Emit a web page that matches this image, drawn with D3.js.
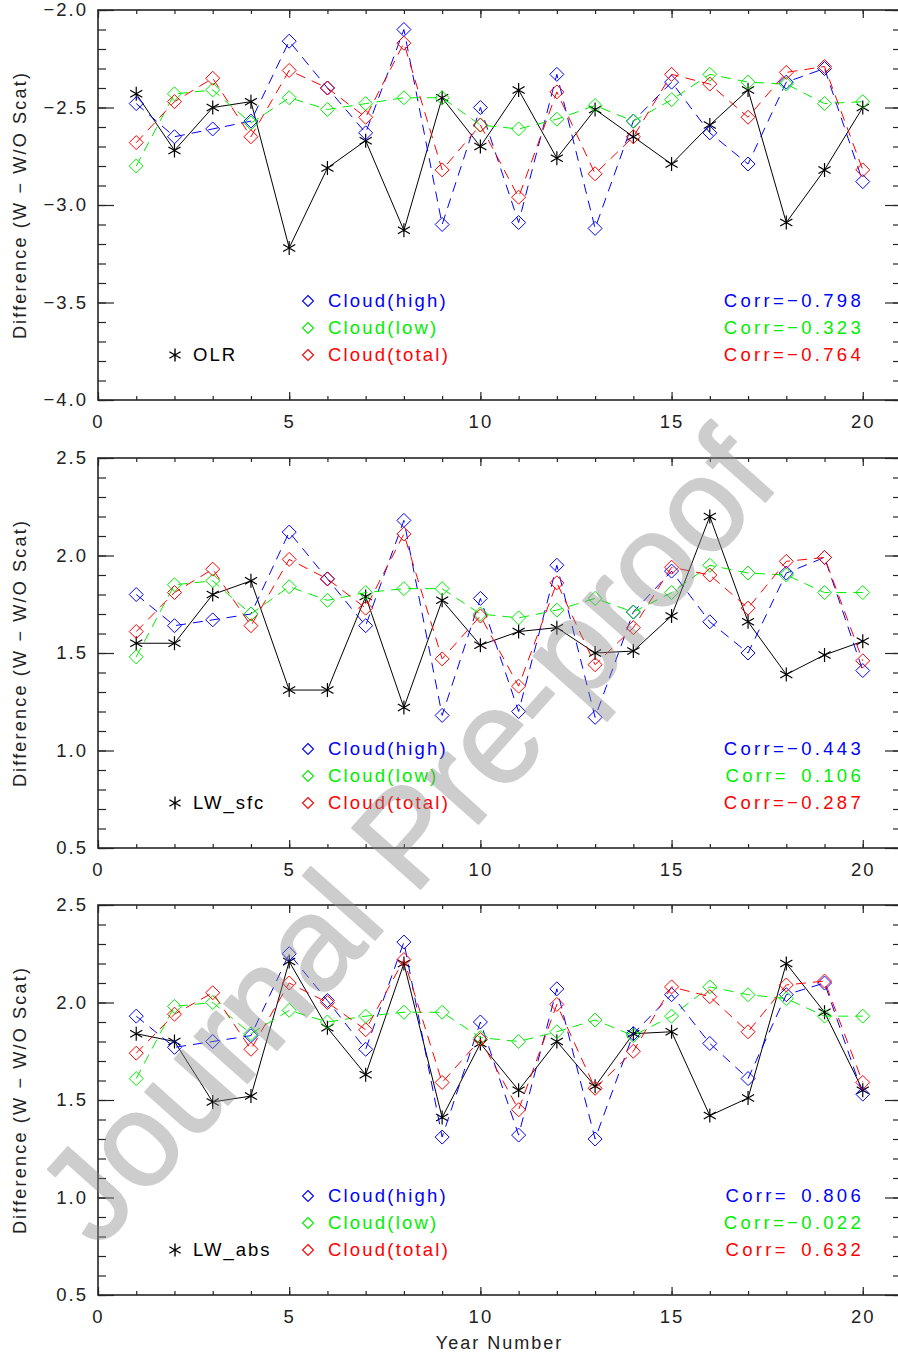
<!DOCTYPE html>
<html>
<head>
<meta charset="utf-8">
<script src="https://cdn.jsdelivr.net/npm/d3@7"></script>
<style>
  body { margin: 0; background: #fff; }
  svg text { font-family: "Liberation Sans", Arial, sans-serif; }
</style>
</head>
<body>
<script>
// year index along x
const years = [1, 2, 3, 4, 5, 6, 7, 8, 9, 10, 11, 12, 13, 14, 15, 16, 17, 18, 19, 20];

// OLR panel
const olrFlux  = [-2.43, -2.72, -2.50, -2.47, -3.22, -2.81, -2.67, -3.13, -2.45, -2.70, -2.41, -2.76, -2.51, -2.65, -2.79, -2.59, -2.41, -3.09, -2.82, -2.50];
const olrHigh  = [-2.48, -2.65, -2.61, -2.57, -2.16, -2.40, -2.63, -2.10, -3.10, -2.50, -3.09, -2.33, -3.12, -2.57, -2.37, -2.63, -2.79, -2.37, -2.30, -2.88];
const olrLow   = [-2.80, -2.43, -2.41, -2.58, -2.45, -2.51, -2.48, -2.45, -2.45, -2.59, -2.61, -2.56, -2.49, -2.57, -2.46, -2.33, -2.37, -2.38, -2.48, -2.47];
const olrTotal = [-2.68, -2.47, -2.35, -2.65, -2.31, -2.40, -2.55, -2.17, -2.82, -2.59, -2.96, -2.42, -2.84, -2.65, -2.33, -2.38, -2.55, -2.32, -2.29, -2.82];

// LW_sfc panel
const sfcFlux  = [1.55, 1.55, 1.80, 1.87, 1.31, 1.31, 1.79, 1.22, 1.77, 1.54, 1.61, 1.63, 1.50, 1.51, 1.69, 2.20, 1.66, 1.39, 1.49, 1.56];
const sfcHigh  = [1.80, 1.64, 1.67, 1.70, 2.12, 1.88, 1.64, 2.18, 1.18, 1.78, 1.20, 1.95, 1.17, 1.71, 1.92, 1.66, 1.50, 1.91, 1.99, 1.41];
const sfcLow   = [1.48, 1.85, 1.87, 1.70, 1.84, 1.77, 1.81, 1.83, 1.83, 1.70, 1.68, 1.72, 1.78, 1.71, 1.81, 1.95, 1.91, 1.90, 1.81, 1.81];
const sfcTotal = [1.61, 1.81, 1.93, 1.64, 1.98, 1.88, 1.73, 2.11, 1.47, 1.69, 1.33, 1.86, 1.44, 1.63, 1.94, 1.90, 1.73, 1.97, 1.99, 1.46];

// LW_abs panel
const absFlux  = [1.84, 1.80, 1.49, 1.52, 2.21, 1.87, 1.63, 2.20, 1.41, 1.79, 1.55, 1.80, 1.57, 1.84, 1.85, 1.42, 1.51, 2.20, 1.95, 1.55];
const absHigh  = [1.93, 1.77, 1.80, 1.83, 2.25, 2.01, 1.76, 2.31, 1.31, 1.90, 1.32, 2.07, 1.30, 1.84, 2.04, 1.79, 1.61, 2.04, 2.10, 1.53];
const absLow   = [1.61, 1.98, 2.00, 1.84, 1.96, 1.90, 1.93, 1.95, 1.95, 1.82, 1.80, 1.85, 1.91, 1.83, 1.93, 2.08, 2.04, 2.02, 1.93, 1.93];
const absTotal = [1.74, 1.94, 2.05, 1.76, 2.10, 2.00, 1.86, 2.22, 1.59, 1.81, 1.45, 1.99, 1.56, 1.75, 2.08, 2.03, 1.85, 2.09, 2.11, 1.59];

const fluxNames = ['OLR', 'LW_sfc', 'LW_abs'];
const yDomains = [[-4, -2], [0.5, 2.5], [0.5, 2.5]];
const cloudNames = ['Cloud(high)', 'Cloud(low)', 'Cloud(total)'];
const cloudColors = ['#0000ff', '#00ee00', '#ff0000'];
const corrLabels = [
  ['Corr=\u22120.798', 'Corr=\u22120.323', 'Corr=\u22120.764'],
  ['Corr=\u22120.443', 'Corr= 0.106', 'Corr=\u22120.287'],
  ['Corr= 0.806', 'Corr=\u22120.022', 'Corr= 0.632']
];
const xTicks = [0, 5, 10, 15, 20];

const panels = [
  { flux: olrFlux, clouds: [olrHigh, olrLow, olrTotal] },
  { flux: sfcFlux, clouds: [sfcHigh, sfcLow, sfcTotal] },
  { flux: absFlux, clouds: [absHigh, absLow, absTotal] }
];

const W = 898, H = 1353;
const panelTops = [10, 458, 905];
const PH = 390;
const axisCol = '#262626';

const svg = d3.select('body').append('svg')
  .attr('width', W).attr('height', H);

const x = d3.scaleLinear().domain([0, 21]).range([98, 901]);

const starPath = r => {
  const a = Math.PI / 6;
  const c = Math.cos(a) * r, s = Math.sin(a) * r;
  return `M0,${-r}L0,${r}M${-c},${-s}L${c},${s}M${-c},${s}L${c},${-s}`;
};
const diamondPath = r => `M0,${-r}L${r},0L0,${r}L${-r},0Z`;

panels.forEach((p, i) => {
  const top = panelTops[i];
  const y = d3.scaleLinear().domain(yDomains[i]).range([top + PH, top]);
  const g = svg.append('g');

  const yMajor = d3.range(yDomains[i][0], yDomains[i][1] + 0.01, 0.5);
  const yMinor = d3.range(yDomains[i][0], yDomains[i][1] + 0.01, 0.1);
  const xMinor = d3.range(0, 21, 1);

  // left axis
  g.append('g').attr('transform', `translate(${x(0)},0)`)
    .call(d3.axisLeft(y).tickValues(yMinor).tickSize(-8).tickFormat(''));
  g.append('g').attr('transform', `translate(${x(0)},0)`)
    .call(d3.axisLeft(y).tickValues(yMajor).tickSize(-16).tickPadding(10).tickFormat(d3.format('.1f')));
  // right axis
  g.append('g').attr('transform', `translate(${x(21)},0)`)
    .call(d3.axisRight(y).tickValues(yMinor).tickSize(-8).tickFormat(''));
  g.append('g').attr('transform', `translate(${x(21)},0)`)
    .call(d3.axisRight(y).tickValues(yMajor).tickSize(-16).tickFormat(''));
  // bottom axis
  g.append('g').attr('transform', `translate(0,${top + PH})`)
    .call(d3.axisBottom(x).tickValues(xMinor).tickSize(-4).tickFormat(''));
  g.append('g').attr('transform', `translate(0,${top + PH})`)
    .call(d3.axisBottom(x).tickValues(xTicks).tickSize(-8).tickPadding(15).tickFormat(d3.format('d')));
  // top axis
  g.append('g').attr('transform', `translate(0,${top})`)
    .call(d3.axisTop(x).tickValues(xMinor).tickSize(-4).tickFormat(''));
  g.append('g').attr('transform', `translate(0,${top})`)
    .call(d3.axisTop(x).tickValues(xTicks).tickSize(-8).tickFormat(''));

  g.selectAll('.domain').remove();
  g.selectAll('.tick line').attr('stroke', axisCol).attr('stroke-width', 1.2);
  g.selectAll('.tick text')
    .attr('fill', '#222')
    .style('font-size', '18.5px')
    .style('letter-spacing', '2px')
    .style('font-family', '"Liberation Sans", Arial, sans-serif');

  g.append('rect')
    .attr('x', x(0)).attr('y', top)
    .attr('width', x(21) - x(0)).attr('height', PH)
    .attr('fill', 'none').attr('stroke', axisCol).attr('stroke-width', 1.6);

  // y title
  g.append('text')
    .attr('transform', `translate(26,${top + PH / 2}) rotate(-90)`)
    .attr('text-anchor', 'middle')
    .attr('fill', '#222')
    .style('font-size', '18px')
    .style('letter-spacing', '2.2px')
    .text('Difference (W \u2212 W/O Scat)');

  // flux line (black, solid, asterisks)
  const line = d3.line().x((d, k) => x(years[k])).y(d => y(d));
  g.append('path').datum(p.flux)
    .attr('d', line).attr('fill', 'none')
    .attr('stroke', '#000').attr('stroke-width', 1);
  g.selectAll('.star').data(p.flux).join('path')
    .attr('transform', (d, k) => `translate(${x(years[k])},${y(d)})`)
    .attr('d', starPath(7)).attr('stroke', '#000').attr('stroke-width', 1.2).attr('fill', 'none');

  // cloud lines (dashed, diamonds)
  p.clouds.forEach((vals, c) => {
    g.append('path').datum(vals)
      .attr('d', line).attr('fill', 'none')
      .attr('stroke', cloudColors[c]).attr('stroke-width', 1)
      .attr('stroke-dasharray', '10,7');
    g.append('g').selectAll('path').data(vals).join('path')
      .attr('transform', (d, k) => `translate(${x(years[k])},${y(d)})`)
      .attr('d', diamondPath(7)).attr('fill', 'none')
      .attr('stroke', cloudColors[c]).attr('stroke-width', 1);
  });

  // legend
  const rowY = [top + 291, top + 318, top + 345];
  g.append('path')
    .attr('transform', `translate(175,${rowY[2]})`)
    .attr('d', starPath(6.5)).attr('stroke', '#000').attr('stroke-width', 1.4).attr('fill', 'none');
  g.append('text')
    .attr('x', 193).attr('y', rowY[2]).attr('dy', '0.35em')
    .attr('fill', '#000')
    .style('font-size', '18.5px').style('letter-spacing', '2px')
    .text(fluxNames[i]);

  cloudNames.forEach((name, c) => {
    g.append('path')
      .attr('transform', `translate(308,${rowY[c]})`)
      .attr('d', diamondPath(5.5)).attr('fill', 'none')
      .attr('stroke', cloudColors[c]).attr('stroke-width', 1.1);
    g.append('text')
      .attr('x', 328).attr('y', rowY[c]).attr('dy', '0.35em')
      .attr('fill', cloudColors[c])
      .style('font-size', '18.5px').style('letter-spacing', '2.2px')
      .text(name);
    g.append('text')
      .attr('x', 864).attr('y', rowY[c]).attr('dy', '0.35em')
      .attr('text-anchor', 'end')
      .attr('fill', cloudColors[c])
      .style('font-size', '18.5px').style('letter-spacing', '3.3px')
      .style('white-space', 'pre').style('word-spacing', '4px')
      .text(corrLabels[i][c]);
  });
});

svg.append('text')
  .attr('x', (x(0) + x(21)) / 2).attr('y', 1349)
  .attr('text-anchor', 'middle')
  .attr('fill', '#222')
  .style('font-size', '18px').style('letter-spacing', '2px')
  .text('Year Number');

// watermark
svg.append('text')
  .attr('transform', 'translate(406,836) rotate(-48.3)')
  .attr('text-anchor', 'middle')
  .attr('dominant-baseline', 'central')
  .attr('fill', '#8a8a8a')
  .attr('stroke', '#8a8a8a')
  .attr('stroke-width', 2)
  .attr('stroke-linejoin', 'round')
  .attr('opacity', 0.42)
  .style('font-size', '133px')
  .text('Journal Pre-proof');
</script>
</body>
</html>
